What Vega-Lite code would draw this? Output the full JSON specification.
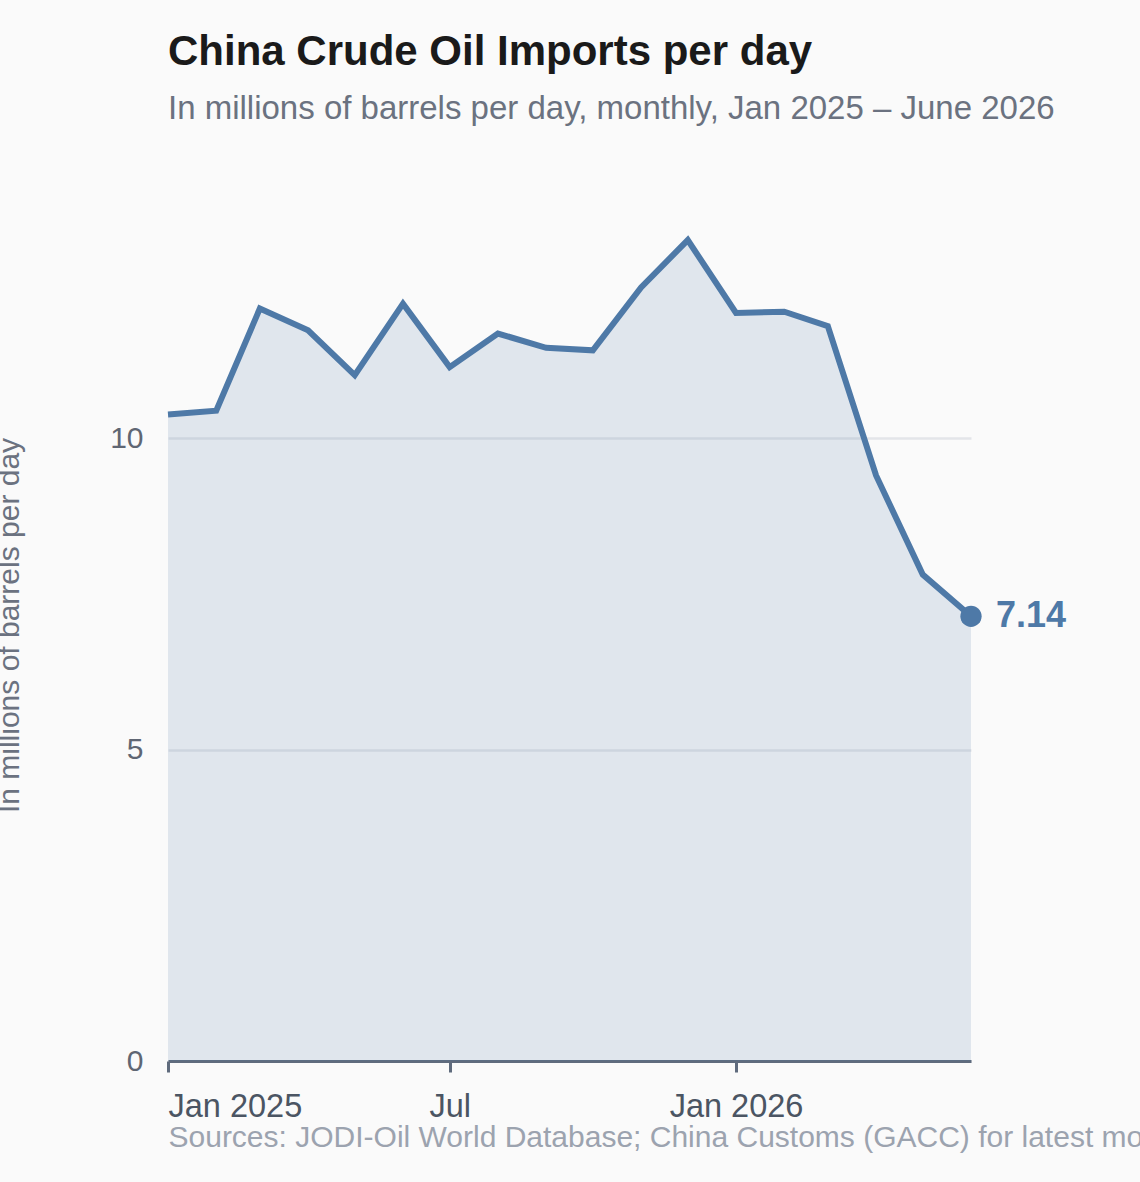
{
  "$schema": "https://vega.github.io/schema/vega-lite/v6.json",
  "autosize": {"type": "none"},
  "padding": {"left": 168, "top": 189, "right": 169, "bottom": 121},
  "width": 803,
  "height": 872,
  "background": "#fafafa",
  "title": {
    "text": "China Crude Oil Imports per day",
    "subtitle": "In millions of barrels per day, monthly, Jan 2025 – June 2026",
    "anchor": "start",
    "frame": "group",
    "font": "Liberation Sans",
    "fontSize": 42,
    "fontWeight": "bold",
    "color": "#1a1a1a",
    "subtitleFont": "Liberation Sans",
    "subtitleFontSize": 33,
    "subtitleColor": "#6b7280",
    "subtitlePadding": 19,
    "offset": 62
  },
  "data": {
    "values": [
      {"month": "2025-01-01", "mbd": 10.38},
      {"month": "2025-02-01", "mbd": 10.44},
      {"month": "2025-03-01", "mbd": 12.08},
      {"month": "2025-04-01", "mbd": 11.73},
      {"month": "2025-05-01", "mbd": 11.01},
      {"month": "2025-06-01", "mbd": 12.16},
      {"month": "2025-07-01", "mbd": 11.14},
      {"month": "2025-08-01", "mbd": 11.68},
      {"month": "2025-09-01", "mbd": 11.45},
      {"month": "2025-10-01", "mbd": 11.41},
      {"month": "2025-11-01", "mbd": 12.42},
      {"month": "2025-12-01", "mbd": 13.18},
      {"month": "2026-01-01", "mbd": 12.01},
      {"month": "2026-02-01", "mbd": 12.03},
      {"month": "2026-03-01", "mbd": 11.8},
      {"month": "2026-04-01", "mbd": 9.4},
      {"month": "2026-05-01", "mbd": 7.81},
      {"month": "2026-06-01", "mbd": 7.14}
    ]
  },
  "encoding": {
    "x": {
      "field": "month",
      "type": "temporal",
      "scale": {"type": "utc", "nice": false},
      "axis": {
        "title": "Sources: JODI-Oil World Database; China Customs (GACC) for latest month",
        "titleAnchor": "start",
        "titleAlign": "left",
        "titleFont": "Liberation Sans",
        "titleFontSize": 30,
        "titleFontWeight": "normal",
        "titleColor": "#9ca3af",
        "titlePadding": 0,
        "values": [
          {"year": 2025, "month": "jan", "date": 1, "utc": true},
          {"year": 2025, "month": "jul", "date": 1, "utc": true},
          {"year": 2026, "month": "jan", "date": 1, "utc": true}
        ],
        "labelExpr": "utcFormat(datum.value, utcmonth(datum.value) == 0 ? '%b %Y' : '%b')",
        "labelFont": "Liberation Sans",
        "labelFontSize": 32.5,
        "labelColor": "#4b5563",
        "labelFlush": true,
        "labelPadding": 18,
        "tickSize": 11,
        "tickWidth": 3,
        "tickColor": "#5f6b7d",
        "domainColor": "#5f6b7d",
        "domainWidth": 3,
        "grid": false
      }
    },
    "y": {
      "field": "mbd",
      "type": "quantitative",
      "scale": {"domain": [0, 14], "nice": false},
      "axis": {
        "title": "In millions of barrels per day",
        "titleFont": "Liberation Sans",
        "titleFontSize": 30,
        "titleFontWeight": "normal",
        "titleColor": "#6b7280",
        "titlePadding": 85,
        "values": [0, 5, 10],
        "labelFont": "Liberation Sans",
        "labelFontSize": 30,
        "labelColor": "#5f6673",
        "labelPadding": 25,
        "ticks": false,
        "tickSize": 0,
        "domain": false,
        "grid": true,
        "gridColor": "#e3e5e9",
        "gridWidth": 2.5
      }
    }
  },
  "layer": [
    {"mark": {"type": "area", "color": "#4e79a7", "opacity": 0.15}},
    {"mark": {"type": "line", "color": "#4e79a7", "strokeWidth": 6, "strokeJoin": "miter"}},
    {
      "transform": [{"filter": "datum.mbd == 7.14"}],
      "mark": {"type": "circle", "color": "#4e79a7", "opacity": 1, "size": 452}
    },
    {
      "transform": [{"filter": "datum.mbd == 7.14"}],
      "mark": {
        "type": "text",
        "align": "left",
        "baseline": "middle",
        "dx": 25,
        "font": "Liberation Sans",
        "fontSize": 36,
        "fontWeight": "bold",
        "color": "#4e79a7"
      },
      "encoding": {"text": {"field": "mbd", "type": "quantitative", "format": ".2f"}}
    }
  ],
  "config": {"view": {"stroke": null}}
}
